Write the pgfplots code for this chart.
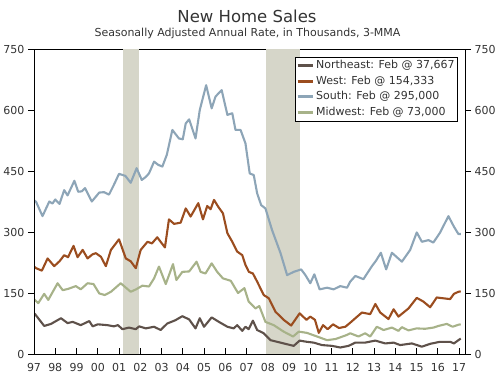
\documentclass[border=0pt]{standalone}
\usepackage{pgfplots}
\pgfplotsset{compat=1.18}
\usepackage{fontspec}
\setmainfont{DejaVu Sans}
\definecolor{neC}{HTML}{5E514A}
\definecolor{weC}{HTML}{9B4D1F}
\definecolor{soC}{HTML}{8DA5B7}
\definecolor{mwC}{HTML}{A7B289}
\definecolor{recC}{HTML}{D6D6C9}
\definecolor{txtC}{HTML}{333333}
\begin{document}
\begin{tikzpicture}
\useasboundingbox (-34pt,-22pt) rectangle (466pt,354pt);
\pgfplotsset{
  base/.style={at={(0pt,0pt)}, anchor=south west, scale only axis,
    width=431pt, height=305pt, xmin=1997, xmax=2017.28, ymin=0, ymax=750,
    /pgf/number format/assume math mode=true,
    tick label style={font=\fontsize{11}{13}\selectfont, text=txtC},
    every tick/.style={black, line width=0.7pt},
    major tick length=6pt},
}
\begin{axis}[base,
  axis line style={black, line width=0.8pt},
  tick align=inside,
  ytick=\empty,
  xtick={1997,1998,...,2017},
  xticklabels={97,98,99,00,01,02,03,04,05,06,07,08,09,10,11,12,13,14,15,16,17},
  xtick pos=bottom,
  xticklabel style={yshift=-6pt},
  legend cell align=left,
  legend style={at={(0.984,0.975)}, anchor=north east, draw=black, line width=0.8pt,
    fill=white, font=\fontsize{11}{13}\selectfont, text=txtC,
    inner xsep=1pt, inner ysep=1pt, row sep=0pt,
    nodes={inner sep=2pt, text height=8.5pt, text depth=3pt},
    /tikz/every even column/.append style={column sep=0pt}},
  legend image code/.code={\draw[#1, line width=3pt] (0pt,0pt) -- (15pt,0pt);},
  every axis plot/.append style={line width=2.1pt, line join=round},
]
\addplot[fill=recC, draw=none, forget plot] coordinates {(2001.17,0) (2001.17,750) (2001.92,750) (2001.92,0)} -- cycle;
\addplot[fill=recC, draw=none, forget plot] coordinates {(2007.92,0) (2007.92,750) (2009.5,750) (2009.5,0)} -- cycle;

\addplot[neC] coordinates {
(1997.0,100) (1997.05,98) (1997.48,69) (1997.8,74) (1998.27,88) (1998.58,76) (1998.82,79)
(1999.2,71) (1999.6,81) (1999.76,68) (2000.0,73) (2000.45,71) (2000.76,68) (2000.95,71)
(2001.16,61) (2001.47,65) (2001.79,61) (2001.95,68) (2002.26,63) (2002.65,67) (2002.96,59)
(2003.27,75) (2003.65,83) (2003.98,93) (2004.3,85) (2004.6,63) (2004.8,88) (2005.0,67)
(2005.36,90) (2005.7,79) (2006.1,67) (2006.4,63) (2006.56,71) (2006.8,57) (2006.95,67)
(2007.1,61) (2007.3,82) (2007.5,59) (2007.81,51) (2008.13,34) (2008.44,30) (2008.75,26)
(2009.22,20) (2009.5,33) (2009.84,30) (2010.16,28) (2010.55,22) (2011.02,20) (2011.41,16)
(2011.8,20) (2012.12,28) (2012.58,28) (2013.06,33) (2013.53,26) (2013.92,28) (2014.23,22)
(2014.78,26) (2015.25,18) (2015.64,25) (2016.1,30) (2016.58,30) (2016.76,26) (2016.97,34)
(2017.08,38)};
\addlegendentry{Northeast: Feb @ 37,667}

\addplot[weC] coordinates {
(1997.0,215) (1997.1,211) (1997.37,205) (1997.64,235) (1997.95,216) (1998.2,228) (1998.42,243)
(1998.6,238) (1998.86,266) (1999.05,238) (1999.29,256) (1999.52,235) (1999.75,245) (1999.91,248)
(2000.15,239) (2000.38,216) (2000.62,256) (2001.0,282) (2001.32,235) (2001.55,228) (2001.79,211)
(2002.02,256) (2002.34,276) (2002.55,272) (2002.8,287) (2003.16,262) (2003.35,331) (2003.59,320)
(2003.9,323) (2004.14,358) (2004.37,338) (2004.73,371) (2004.95,331) (2005.15,364) (2005.31,356)
(2005.47,379) (2005.67,362) (2005.89,346) (2006.1,297) (2006.33,276) (2006.56,252) (2006.8,243)
(2006.95,219) (2007.11,202) (2007.3,198) (2007.5,178) (2007.81,145) (2008.05,137) (2008.36,104)
(2008.75,84) (2009.1,70) (2009.5,100) (2009.82,84) (2010.0,92) (2010.22,84) (2010.4,52)
(2010.6,71) (2010.82,61) (2011.07,73) (2011.35,64) (2011.65,67) (2011.88,77) (2012.12,88)
(2012.43,102) (2012.82,98) (2013.06,123) (2013.29,102) (2013.68,86) (2013.92,110) (2014.15,92)
(2014.62,112) (2015.01,138) (2015.32,129) (2015.64,115) (2015.95,139) (2016.26,137) (2016.58,135)
(2016.76,148) (2016.97,153) (2017.08,154)};
\addlegendentry{West: Feb @ 154,333}

\addplot[soC] coordinates {
(1997.0,378) (1997.1,374) (1997.4,339) (1997.72,375) (1997.87,370) (1998.0,380) (1998.2,369)
(1998.42,403) (1998.58,390) (1998.9,426) (1999.08,399) (1999.25,400) (1999.4,408) (1999.72,375)
(2000.07,397) (2000.3,398) (2000.53,392) (2000.75,415) (2001.0,443) (2001.3,438) (2001.55,421)
(2001.83,457) (2002.07,428) (2002.25,435) (2002.41,444) (2002.65,473) (2002.85,465) (2003.04,461)
(2003.25,490) (2003.51,551) (2003.82,530) (2004.0,528) (2004.14,567) (2004.3,577) (2004.6,530)
(2004.8,600) (2005.1,661) (2005.36,604) (2005.54,633) (2005.83,649) (2006.1,588) (2006.33,592)
(2006.48,551) (2006.72,551) (2006.95,518) (2007.15,444) (2007.34,440) (2007.5,395) (2007.69,366)
(2007.89,358) (2008.2,305) (2008.6,248) (2008.91,194) (2009.22,202) (2009.57,208) (2009.77,194)
(2010.0,174) (2010.19,196) (2010.44,159) (2010.79,163) (2011.1,159) (2011.41,167) (2011.73,163)
(2011.88,178) (2012.12,192) (2012.5,184) (2012.9,216) (2013.1,230) (2013.32,249) (2013.57,208)
(2013.84,249) (2014.31,227) (2014.7,256) (2015.01,299) (2015.25,276) (2015.56,280) (2015.79,274)
(2016.1,298) (2016.5,339) (2016.76,313) (2016.97,295) (2017.08,295)};
\addlegendentry{South: Feb @ 295,000}

\addplot[mwC] coordinates {
(1997.0,135) (1997.2,125) (1997.48,148) (1997.67,133) (1998.11,174) (1998.35,157) (1998.6,160)
(1998.97,167) (1999.2,159) (1999.52,174) (1999.8,172) (2000.07,149) (2000.33,145) (2000.62,153)
(2001.08,174) (2001.55,153) (2001.8,159) (2002.1,168) (2002.41,166) (2002.65,186) (2002.88,215)
(2003.2,172) (2003.54,221) (2003.7,182) (2003.98,202) (2004.3,203) (2004.65,227) (2004.84,202)
(2005.07,198) (2005.36,223) (2005.62,202) (2005.89,186) (2006.26,180) (2006.6,150) (2006.9,162)
(2007.1,129) (2007.42,112) (2007.6,118) (2007.89,79) (2008.28,71) (2008.75,55) (2009.19,43)
(2009.46,55) (2009.84,52) (2010.32,43) (2010.79,34) (2011.2,37) (2011.73,47) (2011.88,51)
(2012.27,43) (2012.58,51) (2012.82,43) (2013.13,67) (2013.45,59) (2013.84,65) (2014.15,57)
(2014.31,66) (2014.62,58) (2015.0,63) (2015.4,62) (2015.8,65) (2016.03,69) (2016.42,74)
(2016.7,67) (2016.97,72) (2017.08,73)};
\addlegendentry{Midwest: Feb @ 73,000}
\end{axis}

\begin{axis}[base, hide x axis, axis y line*=left, tick align=outside,
  axis line style={black, line width=0.8pt},
  ytick={0,150,...,750}]
\end{axis}
\begin{axis}[base, hide x axis, axis y line*=right, tick align=outside,
  axis line style={black, line width=0.8pt},
  ytick={0,150,...,750}]
\end{axis}

\node[anchor=base, inner sep=0pt, font=\fontsize{16.5}{19}\selectfont, text=txtC] at (213pt,332pt) {New Home Sales};
\node[anchor=base, inner sep=0pt, font=\fontsize{11}{13}\selectfont, text=txtC] at (213.5pt,318pt) {Seasonally Adjusted Annual Rate, in Thousands, 3-MMA};
\end{tikzpicture}
\end{document}
